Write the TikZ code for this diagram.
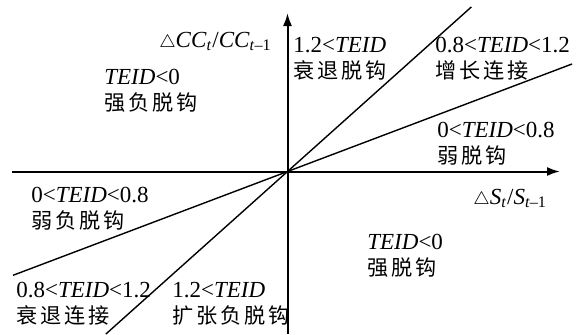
\documentclass[tikz,border=0pt]{standalone}
\usepackage{fontspec}
\setmainfont{Liberation Serif}
\newfontfamily\cjk[LetterSpace=14,Scale=0.92]{Noto Sans CJK SC}
\usepackage{tikz}
\usetikzlibrary{arrows.meta}

\newcommand{\teid}{\textit{TEID}}
\newcommand{\dlt}{{\fontsize{9}{9}\selectfont$\triangle$}}

\begin{document}
\begin{tikzpicture}[x=0.5pt, y=-0.5pt,
    axis/.style={line width=1pt, -{Latex[length=6.5pt,width=4.5pt]}},
    bound/.style={line width=0.7pt},
    zone/.style={anchor=base west, inner sep=0pt, align=left, font=\fontsize{11.5}{13}\selectfont},
    axlbl/.style={inner sep=0pt, font=\fontsize{11.5}{13}\selectfont}
  ]
    \useasboundingbox (0,0) rectangle (582,334);

    % --- AXES ---
    \coordinate (O) at (287.5,171.5);
    \coordinate (xl) at (12,171.5);
    \coordinate (xr) at (560,171.5);
    \coordinate (yb) at (287.5,334);
    \coordinate (yt) at (287.5,13);
    \draw[axis] (xl) -- (xr);
    \draw[axis] (yb) -- (yt);
    \node[axlbl, anchor=base east] (ylab) at (272,47) {\dlt\textit{CC}\textsubscript{\textit{t}}/\textit{CC}\textsubscript{\textit{t}--1}};
    \node[axlbl, anchor=base west] (xlab) at (473,204) {\dlt\textit{S}\textsubscript{\textit{t}}/\textit{S}\textsubscript{\textit{t}--1}};

    % --- BOUNDARY LINES ---
    \coordinate (steepA) at (105.9,334);
    \coordinate (steepB) at (471.3,7);
    \coordinate (flatA) at (13,275.3);
    \coordinate (flatB) at (572,64);
    \draw[bound] (steepA) -- (O) -- (steepB);
    \draw[bound] (flatA) -- (O) -- (flatB);

    % --- ZONES (anchored on the baseline of the Chinese line) ---
    \node[zone] (strongneg) at (104,110) {\teid<0\\\cjk 强负脱钩};
    \node[zone] (recdec) at (293,78) {1.2<\teid\\\cjk 衰退脱钩};
    \node[zone] (growcon) at (435,78) {0.8<\teid<1.2\\\cjk 增长连接};
    \node[zone] (weakdec) at (437,163) {0<\teid<0.8\\\cjk 弱脱钩};
    \node[zone] (weakneg) at (31,228) {0<\teid<0.8\\\cjk 弱负脱钩};
    \node[zone] (reccon) at (16,323) {0.8<\teid<1.2\\\cjk 衰退连接};
    \node[zone] (expneg) at (172,323) {1.2<\teid\\\cjk 扩张负脱钩};
    \node[zone] (strongdec) at (367,275) {\teid<0\\\cjk 强脱钩};
  \end{tikzpicture}
\end{document}
